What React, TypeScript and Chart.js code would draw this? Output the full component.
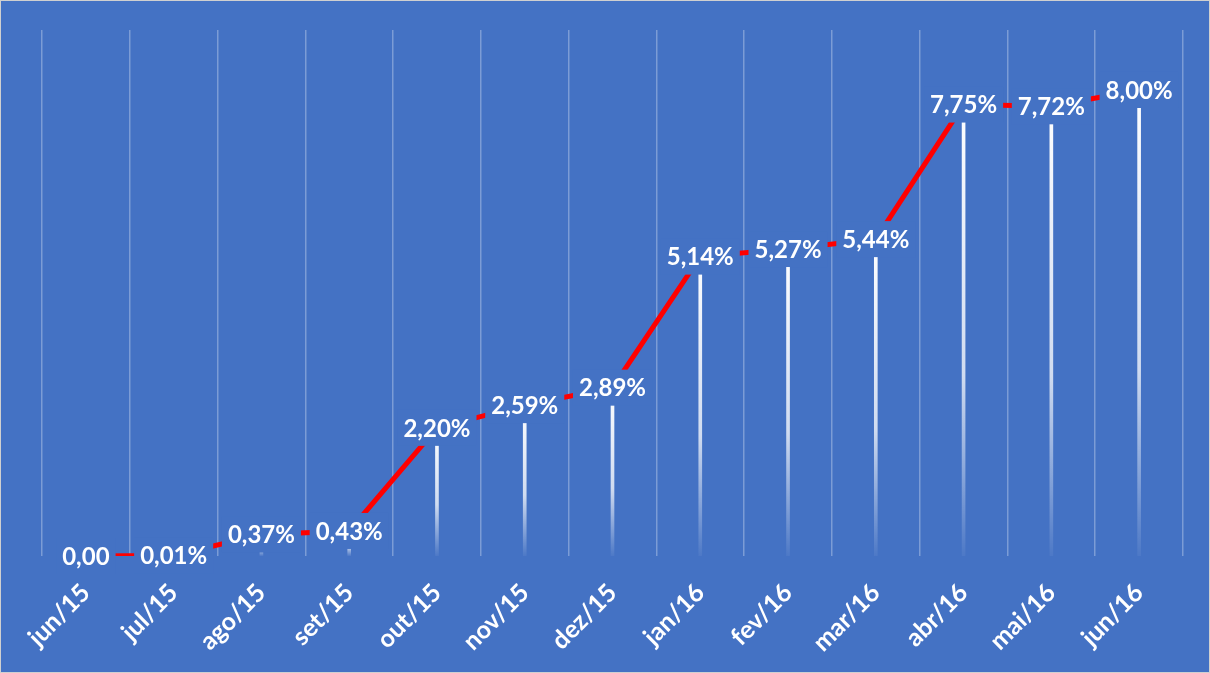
import React, { useEffect, useRef } from "react";
import { Chart, registerables } from "chart.js";

Chart.register(...registerables);

const categories = ["jun/15", "jul/15", "ago/15", "set/15", "out/15", "nov/15", "dez/15", "jan/16", "fev/16", "mar/16", "abr/16", "mai/16", "jun/16"];
const values = [0.0, 0.01, 0.37, 0.43, 2.2, 2.59, 2.89, 5.14, 5.27, 5.44, 7.75, 7.72, 8.0];
const valueLabels = ["0,00", "0,01%", "0,37%", "0,43%", "2,20%", "2,59%", "2,89%", "5,14%", "5,27%", "5,44%", "7,75%", "7,72%", "8,00%"];

const BG = "#4472C4";
const FONT = "Lato, 'Open Sans', sans-serif";

const boxLabels = {
  id: "boxLabels",
  afterDatasetsDraw(chart: any) {
    const meta = chart.getDatasetMeta(1);
    const ctx = chart.ctx;
    ctx.save();
    ctx.font = `bold 24px ${FONT}`;
    ctx.textAlign = "center";
    ctx.textBaseline = "middle";
    meta.data.forEach((pt: any, i: number) => {
      const text = valueLabels[i];
      const w = ctx.measureText(text).width + 12;
      const h = 36;
      ctx.fillStyle = BG;
      ctx.fillRect(pt.x - w / 2, pt.y - h / 2, w, h);
      ctx.fillStyle = "#ffffff";
      ctx.fillText(text, pt.x, pt.y + 1);
    });
    ctx.restore();
  },
};

export default function App() {
  const ref = useRef<HTMLCanvasElement | null>(null);
  useEffect(() => {
    if (!ref.current) return;
    const chart = new Chart(ref.current, {
      type: "bar",
      data: {
        labels: categories,
        datasets: [
          {
            type: "bar",
            data: values,
            barThickness: 3,
            order: 2,
            backgroundColor: (c: any) => {
              const ch = c.chart;
              const ys = ch.scales && ch.scales.y;
              if (!ch.chartArea || !ys) return "#ffffff";
              const v = values[c.dataIndex] ?? 0;
              const top = ys.getPixelForValue(v);
              const base = ys.getPixelForValue(0);
              if (base - top < 1) return "rgba(255,255,255,0.6)";
              const g = ch.ctx.createLinearGradient(0, top, 0, base);
              g.addColorStop(0, "rgba(255,255,255,1)");
              g.addColorStop(0.6, "rgba(255,255,255,0.75)");
              g.addColorStop(1, "rgba(255,255,255,0.05)");
              return g;
            },
          } as any,
          {
            type: "line",
            data: values,
            borderColor: "#FF0000",
            borderWidth: 5,
            pointRadius: 0,
            tension: 0,
            fill: false,
            order: 0,
          } as any,
        ],
      },
      options: {
        animation: false,
        responsive: false,
        layout: { padding: { top: 29, left: 41, right: 26, bottom: 0 } },
        plugins: { legend: { display: false }, tooltip: { enabled: false } },
        scales: {
          x: {
            offset: true,
            grid: { display: true, offset: true, color: "rgba(255,255,255,0.3)", lineWidth: 1.5, drawTicks: false },
            border: { display: false },
            ticks: {
              color: "#ffffff",
              font: { family: FONT, size: 25, weight: "bold" },
              maxRotation: 45,
              minRotation: 45,
              autoSkip: false,
              padding: 22,
            },
            afterFit: (s: any) => {
              s.height = 116;
            },
          },
          y: {
            display: false,
            min: 0,
            max: 9.03,
          },
        },
      },
      plugins: [boxLabels],
    } as any);
    return () => chart.destroy();
  }, []);
  return (
    <div
      style={{
        position: "fixed",
        left: 0,
        top: 0,
        width: 1210,
        height: 673,
        boxSizing: "border-box",
        border: "1px solid #d0d0d0",
        background: BG,
      }}
    >
      <canvas ref={ref} width={1208} height={671} style={{ display: "block" }} />
    </div>
  );
}
